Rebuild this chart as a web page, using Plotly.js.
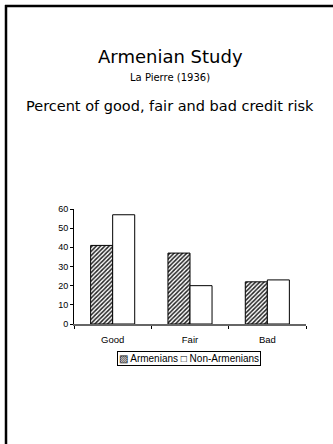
<!DOCTYPE html>
<html>
<head>
<meta charset="utf-8">
<script src="https://cdn.plot.ly/plotly-3.0.1.min.js"></script>
<style>
html,body{margin:0;padding:0;background:#fff;overflow:hidden;}
#chart{width:333px;height:444px;}
</style>
</head>
<body>
<div id="chart"></div>
<script>
const categories = ["Good", "Fair", "Bad"];
const seriesNames = ["Armenians", "Non-Armenians"];
const armenians = [41, 37, 22];
const nonArmenians = [57, 20, 23];
const yTickVals = [0, 10, 20, 30, 40, 50, 60];

const traces = [
  {
    type: "bar", name: seriesNames[0], x: categories, y: armenians,
    marker: {color: "#fff", line: {color: "#000", width: 1},
      pattern: {shape: "/", size: 3, solidity: 0.5, fgcolor: "#222", bgcolor: "#fff"}},
    hoverinfo: "none"
  },
  {
    type: "bar", name: seriesNames[1], x: categories, y: nonArmenians,
    marker: {color: "#fff", line: {color: "#000", width: 1}},
    hoverinfo: "none"
  }
];

const titleFont = "DejaVu Sans, sans-serif";
const px2x = p => (p - 74) / 232;
const px2y = p => (324 - p) / 115;
const xc = px2x(170);
const layout = {
  width: 333, height: 444,
  margin: {l: 74, r: 27, t: 209, b: 120},
  paper_bgcolor: "#fff", plot_bgcolor: "#fff",
  showlegend: false,
  barmode: "group", bargap: 0.43, bargroupgap: 0,
  font: {family: "Liberation Sans, Arial, sans-serif", size: 9, color: "#000"},
  xaxis: {
    type: "category", range: [-0.5, 2.5],
    showline: true, linecolor: "#666", linewidth: 1.5,
    ticks: "outside", tickson: "boundaries", ticklen: 3, tickcolor: "#000",
    showgrid: false, zeroline: false, ticklabelstandoff: 6,
    tickfont: {size: 9.5}
  },
  yaxis: {
    range: [0, 60], tickvals: yTickVals,
    showline: true, linecolor: "#000", linewidth: 1,
    ticks: "outside", ticklen: 3, tickcolor: "#000",
    showgrid: false, zeroline: false,
    tickfont: {size: 9}
  },
  shapes: [
    {type: "line", xref: "paper", yref: "paper", x0: px2x(6), x1: px2x(6), y0: px2y(5), y1: px2y(460),
     line: {color: "#000", width: 2.5}},
    {type: "line", xref: "paper", yref: "paper", x0: px2x(5), x1: px2x(360), y0: px2y(6), y1: px2y(6),
     line: {color: "#000", width: 2.5}}
  ],
  annotations: [
    {xref: "paper", yref: "paper", x: xc, y: px2y(56), xanchor: "center", yanchor: "middle",
     text: "Armenian Study", showarrow: false, font: {family: titleFont, size: 18}},
    {xref: "paper", yref: "paper", x: xc, y: px2y(77), xanchor: "center", yanchor: "middle",
     text: "La Pierre (1936)", showarrow: false, font: {family: titleFont, size: 10}},
    {xref: "paper", yref: "paper", x: xc, y: px2y(106), xanchor: "center", yanchor: "middle",
     text: "Percent of good, fair and bad credit risk", showarrow: false, font: {family: titleFont, size: 14.5}},
    {xref: "paper", yref: "paper", x: px2x(189), y: px2y(358), xanchor: "center", yanchor: "middle",
     text: "▨ " + seriesNames[0] + " □ " + seriesNames[1], showarrow: false,
     bordercolor: "#000", borderwidth: 1, borderpad: 1, bgcolor: "#fff",
     font: {family: "Liberation Sans, Arial, sans-serif", size: 10}}
  ]
};

Plotly.newPlot("chart", traces, layout, {staticPlot: true, displayModeBar: false});
</script>
</body>
</html>
